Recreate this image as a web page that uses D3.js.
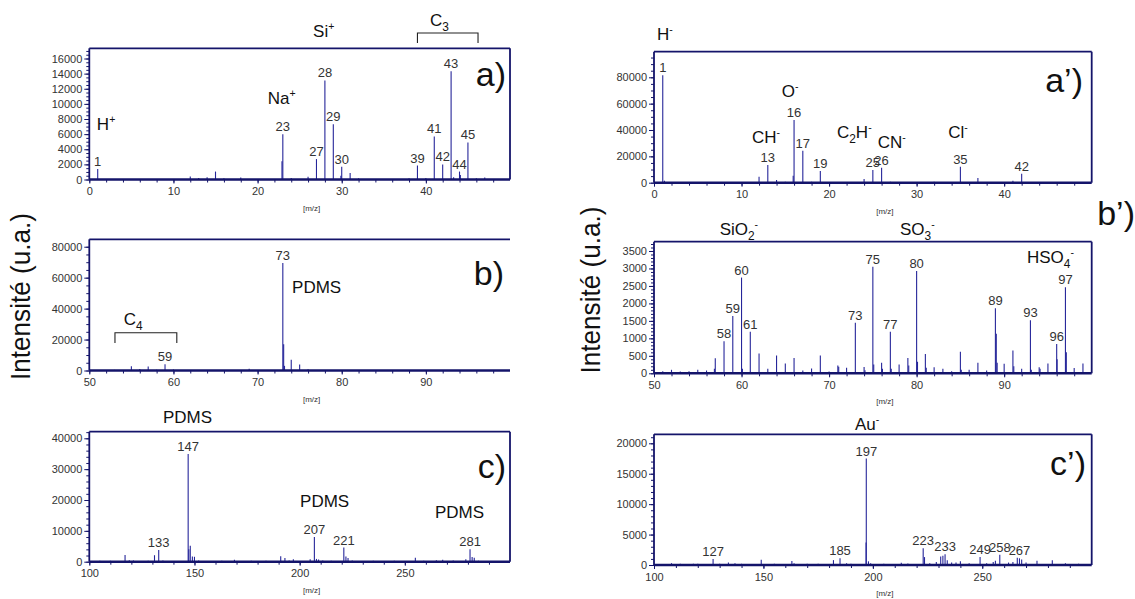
<!DOCTYPE html>
<html><head><meta charset="utf-8">
<script src="https://cdn.jsdelivr.net/npm/d3@7"></script>
<style>
body{margin:0;background:#fff;}
svg{display:block;font-family:"Liberation Sans",Arial,sans-serif;}
</style></head><body>
<svg id="chart" width="1135" height="599"></svg>
<script>
// ---------------- DATA ----------------
// peaks: [m/z, intensity]
const aPeaks = [[1,1400],[12,400],[13,200],[14,300],[15,1050],[16,150],[18,250],[22.9,2400],[23,6000],[24,200],[26,350],[27,2700],[28,13100],[29,7300],[29.9,500],[30,1700],[31,850],[32,150],[38,150],[39,1850],[40,200],[41,5700],[42,2000],[43,14300],[43.3,300],[44,1050],[44.1,600],[45,4900],[46,150],[47,250]];
const aLabels = [1,23,27,28,29,30,39,41,42,43,44,45];
const aXTicks = [0,10,20,30,40];
const aYTicks = [0,2000,4000,6000,8000,10000,12000,14000,16000];

const bPeaks = [[50.5,200],[51,300],[53,400],[55,2800],[56,900],[57,2600],[58,500],[59,4100],[60,600],[63,300],[65,300],[67,400],[69,1200],[71,300],[73,69500],[73.1,16900],[73.2,3000],[74,6900],[75,3900],[76,800],[77,300],[79,250],[85,250],[89,200],[91,250],[95,200]];
const bLabels = [59,73];
const bXTicks = [50,60,70,80,90];
const bYTicks = [0,20000,40000,60000,80000];

const cPeaks = [[105,300],[110,300],[117,2200],[119,500],[121,400],[128,300],[131,2100],[133,3800],[135,400],[147,34900],[147.3,4000],[148,5200],[149,1700],[150,1600],[152,400],[163,300],[169,600],[177,300],[184,300],[191,1800],[193,1200],[195,400],[197,800],[205,800],[207,8000],[208,900],[209,700],[211,400],[215,300],[221,4600],[222,1700],[223,1200],[225,400],[235,300],[245,300],[255,1300],[259,300],[265,500],[268,600],[273,400],[279,800],[281,4000],[282,1500],[283,1300],[285,300]];
const cLabels = [133,147,207,221,281];
const cXTicks = [100,150,200,250];
const cYTicks = [0,10000,20000,30000,40000];

const apPeaks = [[1,81600],[1.2,1500],[12,4500],[13,13400],[14,2000],[15,800],[15.9,5300],[16,47500],[17,24200],[18,800],[19,8800],[20,500],[24,2800],[25,9600],[26,11400],[27,800],[29,500],[32,800],[34,600],[35,12100],[36,600],[37,3500],[38,500],[41,1500],[42,6800],[45,500],[48,400]];
const apLabels = [1,13,16,17,19,25,26,35,42];
const apXTicks = [0,10,20,30,40];
const apYTicks = [0,20000,40000,60000,80000];

const bpPeaks = [[50,180],[51,60],[52,100],[53,50],[54,60],[55,100],[56,80],[56.9,130],[57,430],[58,920],[59,1640],[60,2740],[60.1,130],[61,1190],[62,570],[63,130],[64,510],[65,280],[66,440],[67,80],[68,140],[69,510],[70,50],[71,220],[71.1,190],[72,160],[73,1450],[74,180],[74.1,90],[75,3050],[75.1,250],[76,300],[76.1,130],[77,1190],[77.1,130],[78,250],[79,440],[79.1,220],[80,2930],[80.1,330],[81,550],[81.1,160],[82,170],[83,130],[84,60],[85,620],[85.1,100],[86,100],[87,300],[88,80],[89,1860],[89.1,1130],[89.2,300],[90,270],[91,650],[91.1,200],[92,130],[93,1520],[93.1,100],[94,170],[94.1,130],[95,280],[96,840],[96.05,400],[97,2460],[97.1,600],[98,150],[99,280]];
const bpLabels = [58,59,60,61,73,75,77,80,89,93,96,97];
const bpXTicks = [50,60,70,80,90];
const bpYTicks = [0,500,1000,1500,2000,2500,3000,3500];

const cpPeaks = [[102,150],[108,300],[112,200],[118,200],[120,200],[127,1000],[130,200],[134,400],[137,300],[140,200],[149,850],[155,200],[163,650],[164,300],[170,200],[175,200],[182,800],[185,1100],[188,300],[190,200],[196.9,3700],[197,17500],[198,600],[199,300],[205,200],[213,350],[216,250],[223,2750],[223.6,1300],[226,300],[229,500],[231,1400],[232,1500],[233,1750],[234,800],[236,400],[238,400],[240,600],[244,300],[249,1300],[252,300],[255,500],[256,700],[258,1700],[262,400],[264,500],[266,1200],[267,1100],[268,900],[270,400],[275,700],[282,800],[288,300],[294,200]];
const cpLabels = [127,185,197,223,233,249,258,267];
const cpXTicks = [100,150,200,250];
const cpYTicks = [0,5000,10000,15000,20000];

// annotations: text, m/z, intensity
const aAnnText = ["H^+","Na^+","Si^+","C_3"];
const aAnnMz = [0.9,21.2,26.6,40.5];
const aAnnInt = [6500,10000,18850,20250];
const aBracket = [39.0,46.2,19370,18050];
const bAnnText = ["PDMS","C_4"];
const bAnnMz = [74.1,54.1];
const bAnnInt = [50100,29600];
const bBracket = [53.05,60.4,24430,17780];
const cAnnText = ["PDMS","PDMS","PDMS"];
const cAnnMz = [135.0,200.2,264.3];
const cAnnInt = [44960,17730,14170];
const apAnnText = ["H^-","O^-","CH^-","C_2H^-","CN^-","Cl^-"];
const apAnnMz = [0.35,14.6,11.2,20.9,25.55,33.6];
const apAnnInt = [108300,65050,30130,33930,26340,33930];
const bpAnnText = ["SiO_2^-","SO_3^-","HSO_4^-"];
const bpAnnMz = [57.5,78.1,92.6];
const bpAnnInt = [3960,3960,3150];
const cpAnnText = ["Au^-"];
const cpAnnMz = [191.8];
const cpAnnInt = [22190];

// ---------------- DRAWING ----------------
const svg = d3.select("#chart");
const NAVY = "#14146a";
const BAR = "#26269a";

const panels = [
 {peaks:aPeaks,labels:aLabels,xt:aXTicks,yt:aYTicks,xDom:[0,50],yMax:17350,xMinor:2,yMinor:500,L:89.3,R:510,T:48.3,B:179.5,
  ann:[aAnnText,aAnnMz,aAnnInt],br:aBracket,name:"a)",nx:506,ny:86,right:true},
 {peaks:bPeaks,labels:bLabels,xt:bXTicks,yt:bYTicks,xDom:[50,100],yMax:84800,xMinor:2,yMinor:5000,L:89.3,R:510,T:239.3,B:370.5,
  ann:[bAnnText,bAnnMz,bAnnInt],br:bBracket,name:"b)",nx:504,ny:285,right:false},
 {peaks:cPeaks,labels:cLabels,xt:cXTicks,yt:cYTicks,xDom:[100,300],yMax:42140,xMinor:10,yMinor:2000,L:89.3,R:510,T:431.7,B:561.7,
  ann:[cAnnText,cAnnMz,cAnnInt],br:null,name:"c)",nx:506,ny:478,right:true},
 {peaks:apPeaks,labels:apLabels,xt:apXTicks,yt:apYTicks,xDom:[0,50],yMax:99430,xMinor:2,yMinor:5000,L:654,R:1091.7,T:51.7,B:182.7,
  ann:[apAnnText,apAnnMz,apAnnInt],br:null,name:"a\u2019)",nx:1083,ny:92,right:true},
 {peaks:bpPeaks,labels:bpLabels,xt:bpXTicks,yt:bpYTicks,xDom:[50,100],yMax:3766,xMinor:2,yMinor:100,L:654,R:1091.7,T:241.7,B:373.3,
  ann:[bpAnnText,bpAnnMz,bpAnnInt],br:null,name:"b\u2019)",nx:1135,ny:225,right:true},
 {peaks:cpPeaks,labels:cpLabels,xt:cpXTicks,yt:cpYTicks,xDom:[100,300],yMax:21480,xMinor:10,yMinor:1000,L:654,R:1091.7,T:434.3,B:565,
  ann:[cpAnnText,cpAnnMz,cpAnnInt],br:null,name:"c\u2019)",nx:1086,ny:475,right:true}
];

function rich(sel, s, fs){
  const re = /([\^_])(.)|([^\^_]+)/g; let m, cur = 0;
  while((m = re.exec(s))){
    if(m[3]){ sel.append("tspan").attr("dy", -cur).text(m[3]); cur = 0; }
    else {
      const off = m[1] === "^" ? -0.42*fs : 0.3*fs;
      sel.append("tspan").attr("dy", off - cur).attr("font-size", (m[1]==="^"?0.62:0.7)*fs).text(m[2]);
      cur = off;
    }
  }
}

panels.forEach(p => {
  const g = svg.append("g");
  const x = d3.scaleLinear().domain(p.xDom).range([p.L, p.R]);
  const y = d3.scaleLinear().domain([0, p.yMax]).range([p.B, p.T]);

  // bars
  g.append("g").selectAll("line").data(p.peaks).join("line")
    .attr("x1", d => x(d[0])).attr("x2", d => x(d[0]))
    .attr("y1", y(0)).attr("y2", d => y(d[1]))
    .attr("stroke", BAR).attr("stroke-width", 1.1);

  // frame
  const fr = [[p.L,p.B,p.L,p.T],[p.L,p.T,p.R,p.T]];
  if (p.right) fr.push([p.R,p.T,p.R,p.B]);
  g.append("g").selectAll("line").data(fr).join("line")
    .attr("x1", d => d[0]).attr("y1", d => d[1]).attr("x2", d => d[2]).attr("y2", d => d[3])
    .attr("stroke", NAVY).attr("stroke-width", 1.8);
  g.append("line").attr("x1", p.L).attr("x2", p.R).attr("y1", y(0)).attr("y2", y(0))
    .attr("stroke", NAVY).attr("stroke-width", 2.6);

  // axes
  const styleAxis = (ax) => {
    ax.select(".domain").remove();
    ax.selectAll(".tick line").attr("stroke", NAVY).attr("stroke-width", 1);
    ax.selectAll(".tick text").attr("fill", "#333").attr("font-size", 11).attr("font-family", "'Liberation Sans', Arial, sans-serif");
  };
  const yMinorVals = d3.range(0, p.yMax, p.yMinor);
  const xMinorVals = d3.range(p.xDom[0], p.xDom[1], p.xMinor);
  g.append("g").attr("transform", `translate(${p.L},0)`)
    .call(d3.axisLeft(y).tickValues(yMinorVals).tickSize(3).tickFormat("")).call(styleAxis);
  g.append("g").attr("transform", `translate(${p.L},0)`)
    .call(d3.axisLeft(y).tickValues(p.yt).tickSize(5).tickPadding(2).tickFormat(d3.format("d"))).call(styleAxis);
  g.append("g").attr("transform", `translate(0,${p.B})`)
    .call(d3.axisBottom(x).tickValues(xMinorVals).tickSize(3).tickFormat("")).call(styleAxis);
  g.append("g").attr("transform", `translate(0,${p.B})`)
    .call(d3.axisBottom(x).tickValues(p.xt).tickSize(4).tickPadding(4).tickFormat(d3.format("d"))).call(styleAxis);

  // [m/z]
  g.append("text").attr("x", (p.L + p.R) / 2 + 12).attr("y", p.B + 31)
    .attr("text-anchor", "middle").attr("font-size", 8).attr("fill", "#333").text("[m/z]");

  // peak labels
  g.append("g").selectAll("text").data(p.labels).join("text")
    .attr("x", d => x(d))
    .attr("y", d => y(d3.max(p.peaks.filter(q => Math.abs(q[0] - d) < 0.45), q => q[1])) - 3)
    .attr("text-anchor", "middle").attr("font-size", 13).attr("fill", "#333").text(d => d);

  // annotations
  const [tt, mm, ii] = p.ann;
  tt.forEach((t, k) => {
    const te = g.append("text").attr("x", x(mm[k])).attr("y", y(ii[k]))
      .attr("font-size", 17).attr("fill", "#111");
    rich(te, t, 17);
  });
  if (p.br) {
    const [m1, m2, i1, i2] = p.br;
    g.append("path")
      .attr("d", `M${x(m1)},${y(i2)}V${y(i1)}H${x(m2)}V${y(i2)}`)
      .attr("fill", "none").attr("stroke", "#222").attr("stroke-width", 1.1);
  }

  // panel label
  g.append("text").attr("x", p.nx).attr("y", p.ny).attr("text-anchor", "end")
    .attr("font-size", 34).attr("fill", "#111").text(p.name);
});

// y titles
[[30, 296.5], [600, 290]].forEach(([tx, ty]) => {
  svg.append("text").attr("transform", `translate(${tx},${ty}) rotate(-90)`)
    .attr("text-anchor", "middle").attr("font-size", 28).attr("fill", "#111")
    .attr("textLength", 167).attr("lengthAdjust", "spacingAndGlyphs")
    .text("Intensité (u.a.)");
});
</script>
</body></html>
